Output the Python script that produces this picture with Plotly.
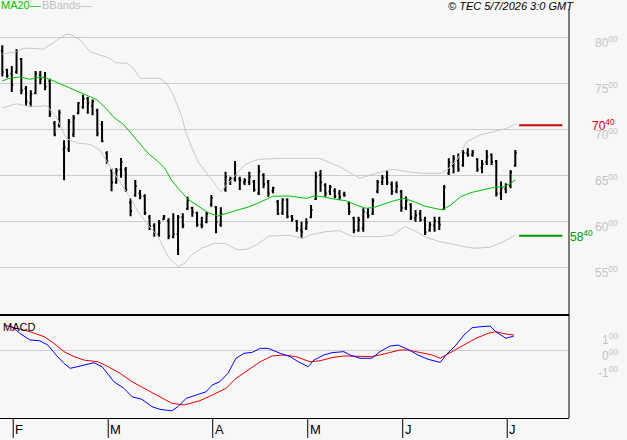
import plotly.graph_objects as go

# ---------------- data ----------------
bar_idx = list(range(109))
high = [7909,7656,7685,7866,7772,7467,7420,7630,7630,7620,7547,7087,7210,6877,7109,7152,7293,7373,7348,7322,
        7221,7087,6757,6569,6576,6685,6587,6246,6446,6337,6290,6065,5975,6011,6065,6029,6083,6065,6083,6264,
        6156,6101,6047,6101,6283,6163,6149,6536,6482,6652,6482,6464,6536,6446,6609,6518,6446,6373,6228,6246,
        6246,6065,6011,5993,6029,6174,6536,6554,6409,6391,6355,6337,6319,6210,6047,6047,6138,6138,6246,6446,
        6500,6554,6428,6428,6337,6265,6192,6120,6120,6047,5993,6047,6047,6391,6681,6717,6735,6772,6790,6772,
        6681,6663,6772,6735,6663,6428,6409,6554,6772]
low = [7572,7558,7402,7601,7377,7250,7239,7377,7486,7420,7130,6920,7015,6442,6750,6913,7159,7221,7167,7149,
       6920,6855,6623,6323,6406,6471,6315,6051,6264,6236,6065,5902,5830,5830,6011,5801,5812,5630,5920,6120,
       6047,5938,5920,5975,6156,5866,5938,6319,6391,6428,6337,6391,6391,6319,6283,6355,6264,6301,6065,6065,
       6029,5993,5884,5812,5902,6029,6228,6319,6264,6283,6246,6228,6264,6065,5866,5884,5884,6029,6065,6301,
       6391,6391,6283,6301,6101,6120,6011,5993,5993,5848,5884,5884,5902,6120,6500,6518,6536,6591,6699,6699,
       6536,6518,6609,6609,6265,6228,6301,6355,6591]
open_ = [7850,7640,7600,7620,7760,7440,7280,7390,7590,7560,7520,7060,7040,6780,6780,6940,7170,7240,7330,7250,
         7200,7050,6740,6550,6420,6560,6560,6200,6280,6300,6270,6040,5950,5860,6020,6000,5830,5860,6040,6130,
         6140,6090,5960,5990,6180,6150,5960,6340,6440,6450,6460,6420,6420,6430,6300,6500,6420,6330,6210,6090,
         6230,6050,6000,5900,5920,6040,6240,6500,6390,6320,6330,6300,6290,6190,6030,5900,5920,6090,6080,6320,
         6420,6480,6400,6330,6320,6140,6180,6030,6080,6010,5900,5950,5990,6130,6520,6600,6660,6610,6740,6720,
         6670,6580,6640,6720,6650,6300,6350,6380,6600]
close = [7620,7580,7480,7840,7420,7300,7380,7600,7540,7460,7160,6940,7180,6800,7080,7120,7280,7330,7280,7300,
         6950,6870,6650,6420,6550,6640,6340,6110,6380,6270,6090,5940,5870,5980,6050,5840,5860,6040,5950,6230,
         6100,5960,5950,6080,6250,5990,6080,6480,6460,6500,6440,6440,6480,6340,6540,6400,6300,6360,6080,6230,
         6050,6020,5920,5880,5980,6120,6480,6420,6300,6370,6270,6260,6280,6100,5900,6010,6100,6060,6220,6420,
         6470,6420,6320,6380,6140,6220,6040,6060,6010,5880,5960,6000,5960,6370,6640,6680,6560,6740,6720,6750,
         6560,6620,6700,6640,6300,6360,6390,6530,6740]

ma_x = [0,1.6,3.7,5.8,7.9,9.7,12.1,14.9,17.8,19.9,21.9,23.4,25.5,27.3,28.6,30.7,32.8,34.2,35.6,37,39.1,41.2,
        43.3,45.4,47.5,49.6,51.7,54.1,56.9,60.4,64,65.7,67.5,70.2,72.3,74.5,76.6,78.3,80.4,82.5,84.6,86.7,88.8,
        90.9,92.6,94.4,96.5,98.6,101.4,103.5,105.6,107,108]
ma_y = [7522,7554,7565,7540,7565,7547,7493,7428,7366,7319,7221,7130,7051,6940,6862,6736,6645,6573,6446,6355,
        6236,6165,6091,6054,6083,6120,6150,6200,6268,6272,6246,6272,6264,6235,6221,6174,6138,6148,6185,6221,
        6246,6210,6163,6138,6120,6174,6264,6308,6337,6366,6373,6409,6446]

up_x = [0,3,4.4,6.5,8.6,10,12.1,13.5,14.6,16.4,18.5,20.6,22.7,23.7,26.2,27.6,29,30.4,33.2,34.6,36,37.7,38.7,
        39.8,41.4,43.3,44.7,46,46.9,48.9,51,52.4,54,58.4,66.8,71,75.3,79.5,82.3,85.1,88.6,92.1,93.6,95.7,97.8,
        100.6,103.4,106.2,108]
up_y = [7815,7840,7877,7877,7866,7913,7985,8033,8022,7967,7840,7804,7768,7721,7714,7659,7551,7551,7551,7496,
        7370,7150,6953,6808,6630,6500,6409,6319,6373,6489,6609,6645,6670,6681,6681,6590,6464,6530,6562,6536,
        6518,6518,6554,6663,6862,6935,6971,7007,7054]

lo_x = [0,3,5.1,7.9,9.3,11.4,13.5,15.7,18.5,20.6,22.7,24.1,25.8,27.3,28.6,30.7,32.8,34.9,37,38.4,39.8,41.9,
        44.7,46.8,49.6,51.7,53.5,56.2,60.5,63.3,64.7,68.2,71,73.5,76.6,79.5,82.3,84.7,86.5,89.3,92.1,95.7,99.2,
        102.7,105.5,108]
lo_y = [7228,7275,7250,7246,7257,7130,6895,6848,6833,6768,6587,6478,6333,6225,6101,5957,5830,5612,5504,5540,
        5630,5703,5757,5757,5685,5696,5740,5837,5845,5812,5848,5884,5895,5835,5830,5830,5848,5940,5902,5822,
        5775,5739,5703,5714,5775,5848]

macd_x = [1.6,3.7,5.8,7.9,9.6,11.3,13.0,14.3,16.4,18.0,19.3,21.0,22.3,23.5,25.6,27.3,29.4,31.5,33.2,35.7,37.0,
          38.7,40.8,42.9,44.2,45.8,47.5,49.2,50.9,52.6,54.3,56.0,58.5,60.6,62.3,64.4,65.6,67.7,69.4,71.9,73.2,
          75.3,77.8,79.5,81.6,83.3,85.4,87.5,89.6,91.7,92.2,93.4,95.5,97.2,98.9,100.6,102.7,103.9,106.0,107.7]
macd_y = [151,101,61,56,30,-30,-81,-111,-97,-85,-77,-101,-151,-192,-232,-283,-299,-343,-360,-368,-343,
          -293,-273,-253,-212,-192,-141,-50,-20,-14,10,10,-20,-40,-71,-101,-61,-30,-16,-10,-30,
          -50,-50,-10,24,30,4,-30,-56,-71,-75,-30,30,91,135,141,145,111,71,85]
sig_x = [0.4,2.9,5.8,8.8,10.9,13.0,15.1,17.2,20.1,22.3,24.8,27.3,29.8,33.2,35.7,38.3,41.6,44.2,47.1,49.2,51.7,
         54.3,56.8,59.3,61.8,64.8,66.9,69.4,71.9,74.5,77.8,80.4,83.7,85.4,87.9,90.5,92.2,94.7,97.2,99.7,102.3,
         103.9,106.0,107.7]
sig_y = [151,131,111,81,40,-10,-40,-61,-71,-101,-141,-192,-232,-283,-323,-333,-307,-273,-232,-172,-121,
         -71,-36,-30,-40,-71,-65,-46,-36,-36,-40,-24,0,0,-14,-30,-50,-10,30,71,101,111,97,91]

month_idx = [2, 22, 44, 64, 84, 106]
month_lbl = ["F", "M", "A", "M", "J", "J"]
price_ticks = [5500, 6000, 6500, 7000, 7500, 8000]
grid_vals = [5000, 5500, 6000, 6500, 7000, 7500, 8000]
macd_ticks = [100, 0, -100]
level_hi = 7040
level_lo = 5840

# ---------------- layout geometry ----------------
W, H = 627, 440
ML, MR, MT, MB = 0, 58, 10, 22
PW, PH = W - ML - MR, H - MT - MB
def px(xp): return (xp - ML) / PW
def py(yp): return (H - MB - yp) / PH

FONT = "Liberation Sans, Arial, sans-serif"
GRAY = "#c4c4c4"
BG = "#f7f7f7"

fig = go.Figure()
fig.add_trace(go.Scatter(x=up_x, y=up_y, mode="lines", line=dict(color="#c8c8c8", width=1), xaxis="x", yaxis="y"))
fig.add_trace(go.Scatter(x=lo_x, y=lo_y, mode="lines", line=dict(color="#c8c8c8", width=1), xaxis="x", yaxis="y"))
fig.add_trace(go.Scatter(x=ma_x, y=ma_y, mode="lines", line=dict(color="#00c000", width=1), xaxis="x", yaxis="y"))
fig.add_trace(go.Ohlc(x=bar_idx, open=open_, high=high, low=low, close=close,
                      increasing=dict(line=dict(color="black", width=2)),
                      decreasing=dict(line=dict(color="black", width=2)),
                      tickwidth=0.3, xaxis="x", yaxis="y"))
last = bar_idx[-1]
fig.add_trace(go.Scatter(x=[last + 0.8, last + 9.9], y=[level_hi, level_hi], mode="lines",
                         line=dict(color="#cc0000", width=2), xaxis="x", yaxis="y"))
fig.add_trace(go.Scatter(x=[last + 0.8, last + 9.9], y=[level_lo, level_lo], mode="lines",
                         line=dict(color="#009900", width=2), xaxis="x", yaxis="y"))
fig.add_trace(go.Scatter(x=sig_x, y=sig_y, mode="lines", line=dict(color="#e00000", width=1), xaxis="x", yaxis="y2"))
fig.add_trace(go.Scatter(x=macd_x, y=macd_y, mode="lines", line=dict(color="#0000ff", width=1), xaxis="x", yaxis="y2"))

x_lo = -2.3 / 4.75
x_hi = (PW - 2.3) / 4.75
main_bottom = 313
macd_top = 316
fig.update_layout(
    width=W, height=H, margin=dict(l=ML, r=MR, t=MT, b=MB),
    paper_bgcolor=BG, plot_bgcolor=BG, showlegend=False,
    font=dict(family=FONT, size=11, color="black"),
    xaxis=dict(range=[x_lo, x_hi], domain=[0, 1], anchor="y2", showgrid=False, zeroline=False,
               showticklabels=False, ticks="", showline=False, rangeslider=dict(visible=False), fixedrange=True),
    yaxis=dict(domain=[py(main_bottom), 1], range=[5000, 5000 + (main_bottom - MT) / 0.092], anchor="x",
               tickvals=grid_vals, showgrid=True, gridcolor="#cccccc", gridwidth=1, zeroline=False,
               showticklabels=False, ticks="", showline=False),
    yaxis2=dict(domain=[0, py(macd_top)], range=[-412, -412 + (418 - macd_top) / 0.165], anchor="x",
                tickvals=[0], showgrid=True, gridcolor="#cccccc", gridwidth=1, zeroline=False,
                showticklabels=False, ticks="", showline=False),
)

shapes = []
# right border
shapes.append(dict(type="line", xref="paper", yref="paper", x0=px(569), x1=px(569), y0=py(418), y1=py(9),
                   line=dict(color="black", width=1)))
# separator between panels
shapes.append(dict(type="line", xref="paper", yref="paper", x0=0, x1=px(569), y0=py(315), y1=py(315),
                   line=dict(color="black", width=2)))
# bottom border
shapes.append(dict(type="line", xref="paper", yref="paper", x0=0, x1=px(569), y0=py(418.5), y1=py(418.5),
                   line=dict(color="black", width=1)))
for mi in month_idx:
    shapes.append(dict(type="line", xref="x", yref="paper", x0=mi + 0.3, x1=mi + 0.3, y0=py(418), y1=py(438),
                       line=dict(color="black", width=1)))
fig.update_layout(shapes=shapes)

ann = []
for mi, lb in zip(month_idx, month_lbl):
    ann.append(dict(x=mi + 0.3, xref="x", y=py(439), yref="paper", text=lb, showarrow=False,
                    xanchor="left", yanchor="bottom", xshift=0, font=dict(size=13, color="black")))
for v in price_ticks:
    ann.append(dict(x=px(620), xref="paper", y=v, yref="y", text=f"{v // 100}<sup>00</sup>", showarrow=False,
                    xanchor="right", yanchor="middle", yshift=-5, font=dict(size=12, color=GRAY)))
for v in macd_ticks:
    ann.append(dict(x=px(620), xref="paper", y=v, yref="y2", text=f"{int(v / 100)}<sup>00</sup>", showarrow=False,
                    xanchor="right", yanchor="middle", yshift=-5, font=dict(size=12, color=GRAY)))
ann.append(dict(x=px(617), xref="paper", y=level_hi, yref="y", text=f"{level_hi // 100}<sup>{level_hi % 100:02d}</sup>",
                showarrow=False, xanchor="right", yanchor="middle", font=dict(size=12, color="#cc0000")))
ann.append(dict(x=px(568), xref="paper", y=level_lo, yref="y", text=f"{level_lo // 100}<sup>{level_lo % 100:02d}</sup>",
                showarrow=False, xanchor="left", yanchor="middle", font=dict(size=12, color="#009900")))
ann.append(dict(x=px(576), xref="paper", y=py(6), yref="paper", text="<i>© TEC 5/7/2026 3:0 GMT</i>",
                showarrow=False, xanchor="right", yanchor="middle", font=dict(size=11, color="black")))
ann.append(dict(x=px(-1), xref="paper", y=py(5), yref="paper", text="MA20—",
                showarrow=False, xanchor="left", yanchor="middle", font=dict(size=11, color="#00c000")))
ann.append(dict(x=px(40), xref="paper", y=py(5), yref="paper", text="BBands—",
                showarrow=False, xanchor="left", yanchor="middle", font=dict(size=11, color="#c0c0c0")))
ann.append(dict(x=px(1), xref="paper", y=py(327), yref="paper", text="MACD",
                showarrow=False, xanchor="left", yanchor="middle", font=dict(size=11, color="black")))
fig.update_layout(annotations=ann)

fig.write_html("out.html")
